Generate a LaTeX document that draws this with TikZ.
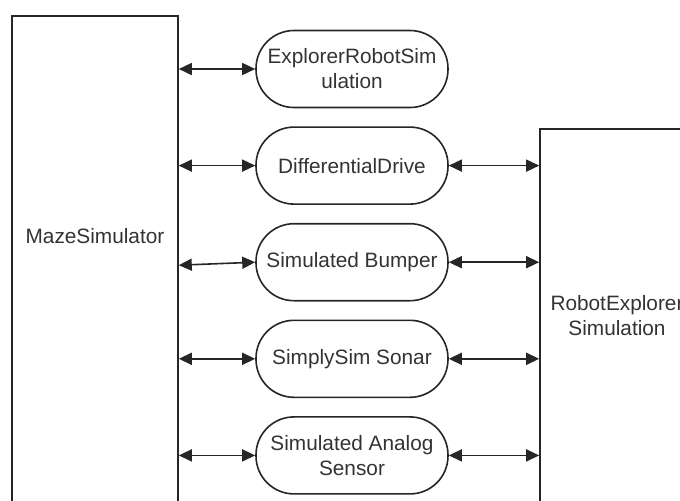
\documentclass[tikz,border=0pt]{standalone}
\usepackage{fontspec}
\setmainfont{Liberation Sans}
\usetikzlibrary{positioning,arrows.meta}

\begin{document}
\begin{tikzpicture}[x=0.5pt,y=-0.5pt,
  comp/.style={draw=black!85,line width=0.8pt,rounded corners=19pt,
    minimum width=96pt,minimum height=38.5pt,inner sep=1pt,align=center},
  blk/.style={draw=black!85,line width=0.8pt,inner sep=0pt,align=center},
  link/.style={{Triangle[length=6.5pt,width=6pt]}-{Triangle[length=6.5pt,width=6pt]},
    line width=0.8pt,draw=black!85},
  font=\fontsize{10.4}{12.5}\selectfont,
  text=black!80,
  node distance=9pt]

 \useasboundingbox (0,0) rectangle (680,500);
 \clip (0,0) rectangle (680,500);

 % simulator blocks
 \node[blk, minimum width=83pt, minimum height=252pt] (maze) at (95,268) {};
 \node (mazetxt) at (95,236) {MazeSimulator};
 \node[blk, minimum width=77pt, minimum height=187pt] (robot) at (617,316)
   {RobotExplorer\\Simulation};

 % services
 \node[comp] (explorer) at (352,69) {ExplorerRobotSim\\ulation};
 \node[comp, below=of explorer] (drive) {DifferentialDrive};
 \node[comp, below=of drive] (bumper) {Simulated Bumper};
 \node[comp, below=of bumper] (sonar) {SimplySim Sonar};
 \node[comp, below=of sonar] (analog) {Simulated Analog\\Sensor};

 \draw[link] (maze.east |- explorer) -- (explorer.west);
 \draw[link] (maze.east |- drive) -- (drive.west);
 \draw[link] ([yshift=-1.5pt]maze.east |- bumper) -- (bumper.west);
 \draw[link] (maze.east |- sonar) -- (sonar.west);
 \draw[link] (maze.east |- analog) -- (analog.west);

 \draw[link] (drive.east) -- (robot.west |- drive);
 \draw[link] (bumper.east) -- (robot.west |- bumper);
 \draw[link] (sonar.east) -- (robot.west |- sonar);
 \draw[link] (analog.east) -- (robot.west |- analog);

\end{tikzpicture}
\end{document}
